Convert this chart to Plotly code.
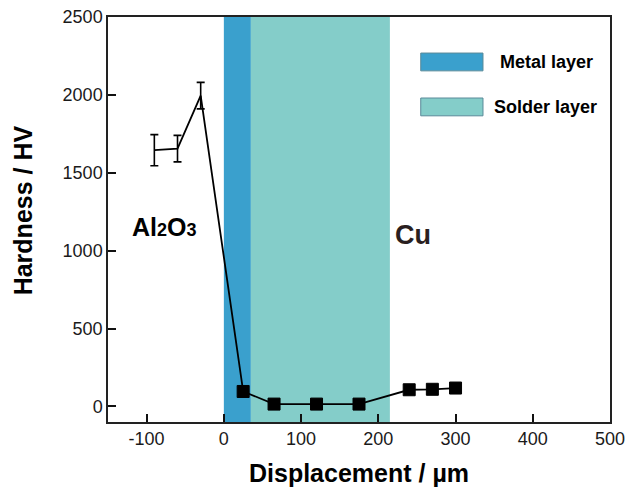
import plotly.graph_objects as go

# Hardness profile data
disp = [-90, -60, -30, 25, 65, 120, 175, 240, 270, 300]
hardness = [1645, 1655, 1995, 96, 15, 15, 15, 107, 110, 118]

# Error bars for Al2O3 side points
err_x = [-90, -60, -30]
err_y = [1645, 1655, 1995]
err_val = [100, 85, 85]

# Layer regions (x ranges)
layer_names = ["Metal layer", "Solder layer"]
layer_x0 = [0, 35]
layer_x1 = [35, 215]
layer_colors = ["#3AA0CD", "#84CDC9"]

marker_sizes = [0, 0, 0, 12, 12, 12, 12, 12, 12, 12]

x_ticks = [-100, 0, 100, 200, 300, 400, 500]
x_ticktext = ["-100", "0", "100", "200", "300", "400", "500"]
y_ticks = [0, 500, 1000, 1500, 2000, 2500]

FONT = "Liberation Sans, Arial, sans-serif"

fig = go.Figure()

for x0, x1, c in zip(layer_x0, layer_x1, layer_colors):
    fig.add_shape(type="rect", xref="x", yref="paper", x0=x0, x1=x1, y0=0, y1=1,
                  fillcolor=c, line=dict(width=0), layer="below")

fig.add_trace(go.Scatter(
    x=disp, y=hardness, mode="lines+markers",
    line=dict(color="black", width=1.8),
    marker=dict(symbol="square", size=marker_sizes, color="black", opacity=1,
                line=dict(color="black", width=1)),
    showlegend=False, hoverinfo="skip"))

fig.add_trace(go.Scatter(
    x=err_x, y=err_y, mode="markers",
    marker=dict(size=0.1, color="black"),
    error_y=dict(type="data", array=err_val, visible=True, color="black",
                 thickness=1.6, width=4),
    showlegend=False, hoverinfo="skip"))

# Custom legend
leg_y = [(0.911, 0.867), (0.800, 0.756)]
leg_text_x = [0.777, 0.765]
for (yt, yb), c, name, tx in zip(leg_y, layer_colors, layer_names, leg_text_x):
    fig.add_shape(type="rect", xref="paper", yref="paper", x0=0.623, x1=0.747,
                  y0=yb, y1=yt, fillcolor=c, line=dict(color="#5a8a99", width=1))
    fig.add_annotation(x=tx, y=(yt + yb) / 2, xref="paper", yref="paper",
                       text="<b>%s</b>" % name, showarrow=False, xanchor="left",
                       yanchor="middle", font=dict(family=FONT, size=18, color="black"))

fig.add_annotation(x=-78, y=1150, xref="x", yref="y",
                   text="<b>Al<span style='font-size:18px'>2</span>O<span style='font-size:18px'>3</span></b>",
                   showarrow=False, font=dict(family=FONT, size=25, color="black"))
fig.add_annotation(x=219, y=1100, xref="x", yref="y", text="<b>Cu</b>",
                   showarrow=False, xanchor="left",
                   font=dict(family=FONT, size=27, color="#2a1f1f"))

# Axis titles
fig.add_annotation(x=0.5, y=-0.126, xref="paper", yref="paper",
                   text="<b>Displacement / µm</b>", showarrow=False,
                   xanchor="center", yanchor="middle",
                   font=dict(family=FONT, size=25, color="black"))
fig.add_annotation(x=-0.169, y=0.523, xref="paper", yref="paper",
                   text="<b>Hardness / HV</b>", showarrow=False, textangle=-90,
                   xanchor="center", yanchor="middle",
                   font=dict(family=FONT, size=25, color="black"))

axis_common = dict(
    showline=True, linecolor="#222222", linewidth=1.5, mirror=True,
    ticks="inside", ticklen=8, tickwidth=1.6, tickcolor="#111111",
    showgrid=False, zeroline=False, automargin=False,
    tickfont=dict(family=FONT, size=18, color="#1a1a1a"),
)

fig.update_xaxes(range=[-150, 500], tickvals=x_ticks, ticktext=x_ticktext,
                 **axis_common)
fig.update_yaxes(range=[-100, 2500], tickvals=y_ticks,
                 **axis_common)

fig.update_layout(
    width=627, height=491,
    margin=dict(l=108, r=17, t=17, b=69),
    plot_bgcolor="white", paper_bgcolor="white",
    showlegend=False,
)

fig.write_html("out.html")
